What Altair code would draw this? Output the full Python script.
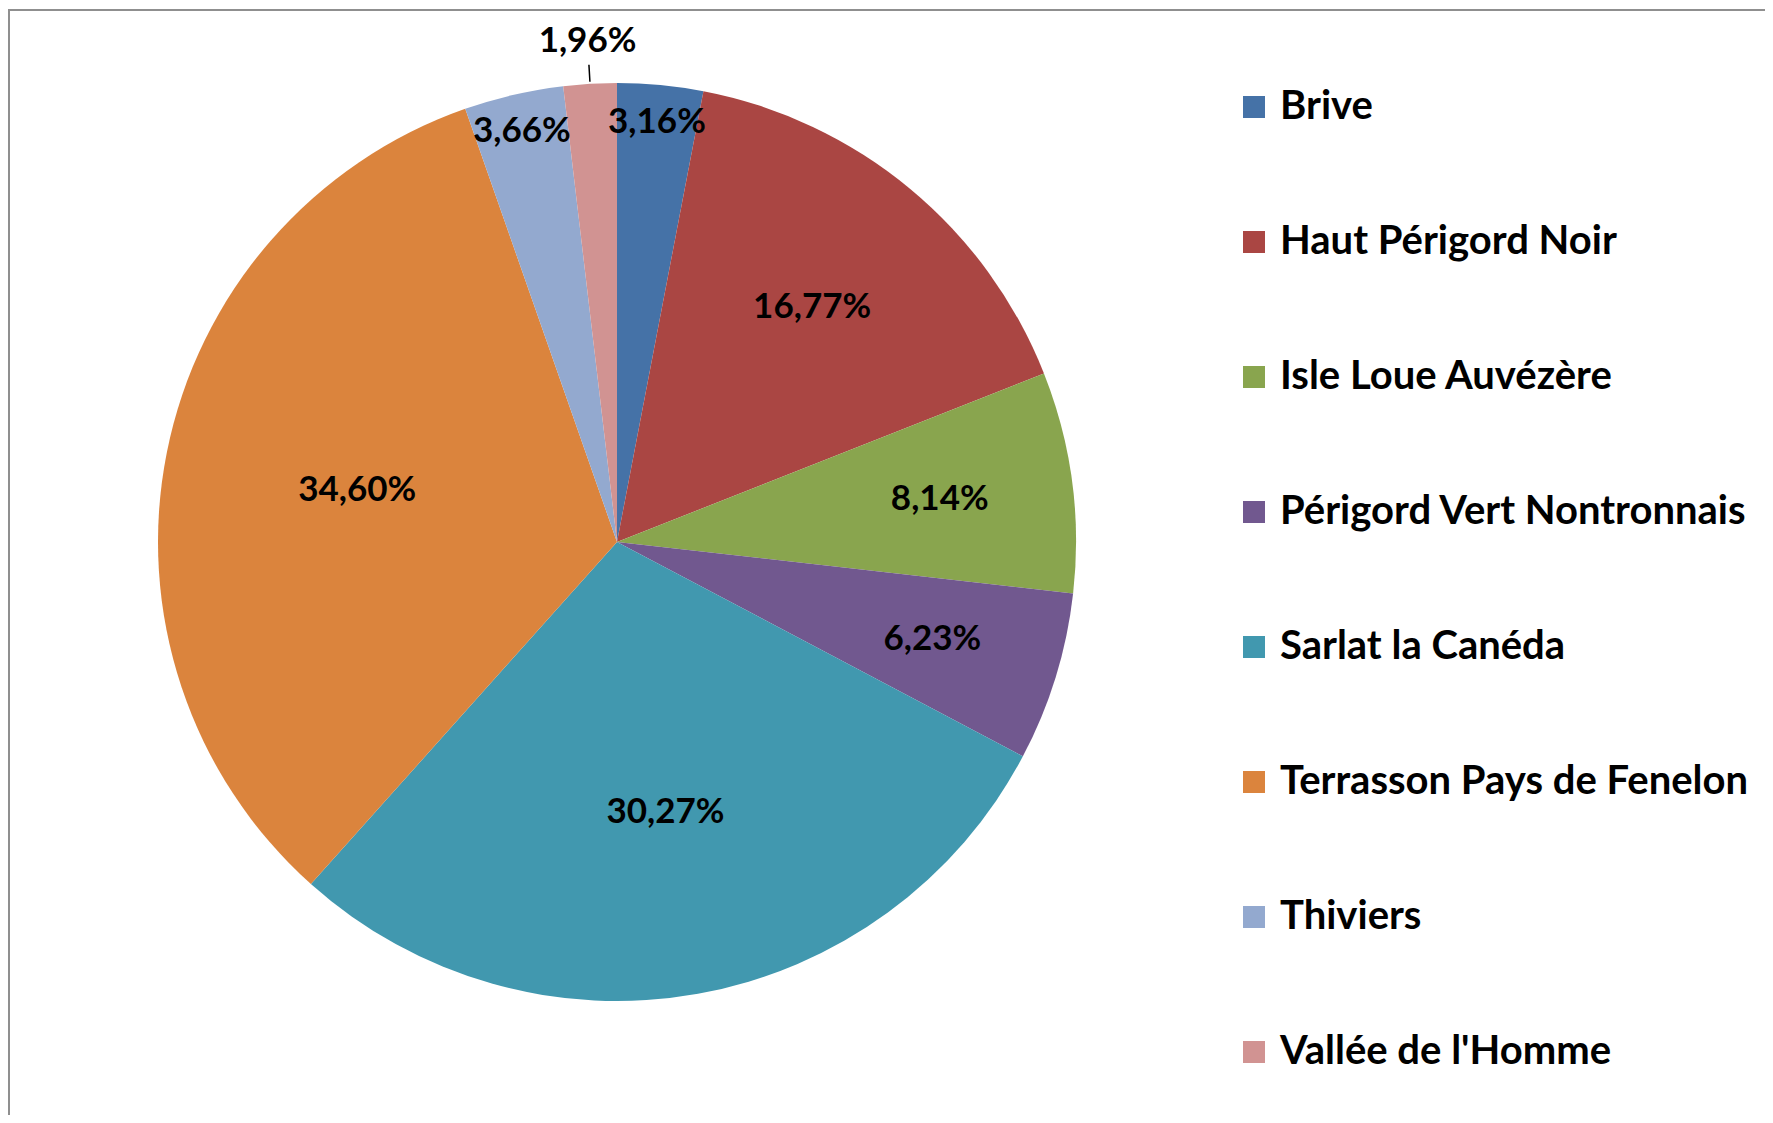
import altair as alt
import pandas as pd
import math

categories = ["Brive", "Haut Périgord Noir", "Isle Loue Auvézère", "Périgord Vert Nontronnais",
              "Sarlat la Canéda", "Terrasson Pays de Fenelon", "Thiviers", "Vallée de l'Homme"]
values = [3.16, 16.77, 8.14, 6.23, 30.27, 34.60, 3.66, 1.96]
colors = ["#4572A7", "#AA4643", "#89A54E", "#71588F", "#4198AF", "#DB843D", "#93A9CF", "#D19392"]

FONT = "Lato"
R = 459
CX, CY = 609, 534

df = pd.DataFrame({"cat": categories, "value": values, "idx": list(range(len(values)))})
df["label"] = [f"{v:.2f}%".replace(".", ",") for v in values]

def label_r(v):
    # best-fit style placement: tiny slices outside, small at inside end, large nearer centre
    if v < 2.5:
        return R + 43
    if v < 5:
        return 0.92 * R
    return (0.75 - 0.005 * v) * R

total = sum(values)
mids, cum = [], 0.0
leaders = []
for v in values:
    mid = (cum + v / 2) / total * 2 * math.pi
    mids.append(mid)
    if v < 2.5:
        leaders.append({"t0": mid - 0.0016, "t1": mid + 0.0016})
    cum += v
df["mid"] = mids
df["lr"] = [label_r(v) for v in values]
ldf = pd.DataFrame(leaders)

base = alt.Chart(df)

pie = base.mark_arc(stroke=None).encode(
    theta=alt.Theta("value:Q", stack=True),
    order=alt.Order("idx:Q", sort="ascending"),
    color=alt.Color("cat:N", scale=alt.Scale(domain=categories, range=colors),
                    sort=categories,
                    legend=alt.Legend(title=None, orient="none", legendX=1226, legendY=79,
                                      symbolType="square", symbolSize=484, symbolStrokeWidth=0,
                                      labelFont=FONT, labelFontSize=40, labelFontWeight="bold",
                                      labelColor="black", labelOffset=6, rowPadding=95,
                                      labelLimit=0, padding=0)),
    radius=alt.value(R),
    x=alt.value(CX), y=alt.value(CY),
)

labels = base.mark_text(font=FONT, fontSize=35, fontWeight="bold", color="black",
                        align="center", baseline="middle").encode(
    theta=alt.Theta("mid:Q", scale=None),
    radius=alt.Radius("lr:Q", scale=None),
    text="label:N",
    x=alt.value(CX), y=alt.value(CY),
)

leader = alt.Chart(ldf).mark_arc(color="black").encode(
    theta=alt.Theta("t0:Q", scale=None),
    theta2="t1:Q",
    radius=alt.value(R + 19),
    radius2=alt.value(R + 2),
    x=alt.value(CX), y=alt.value(CY),
)

W, H = 1757, 1107
border_left = alt.Chart(df).mark_rule(color="#8f8f8f", strokeWidth=1.5).encode(
    x=alt.value(1), y=alt.value(2), y2=alt.value(H))
border_top = alt.Chart(df).mark_rule(color="#8f8f8f", strokeWidth=1.5).encode(
    x=alt.value(0), x2=alt.value(W), y=alt.value(2))

chart = alt.layer(pie, labels, leader, border_left, border_top).properties(
    width=W, height=H, autosize=alt.AutoSizeParams(type="none"), padding=0
).configure_view(stroke=None)

chart.save("out.html", embed_options={"renderer": "svg", "actions": False})
